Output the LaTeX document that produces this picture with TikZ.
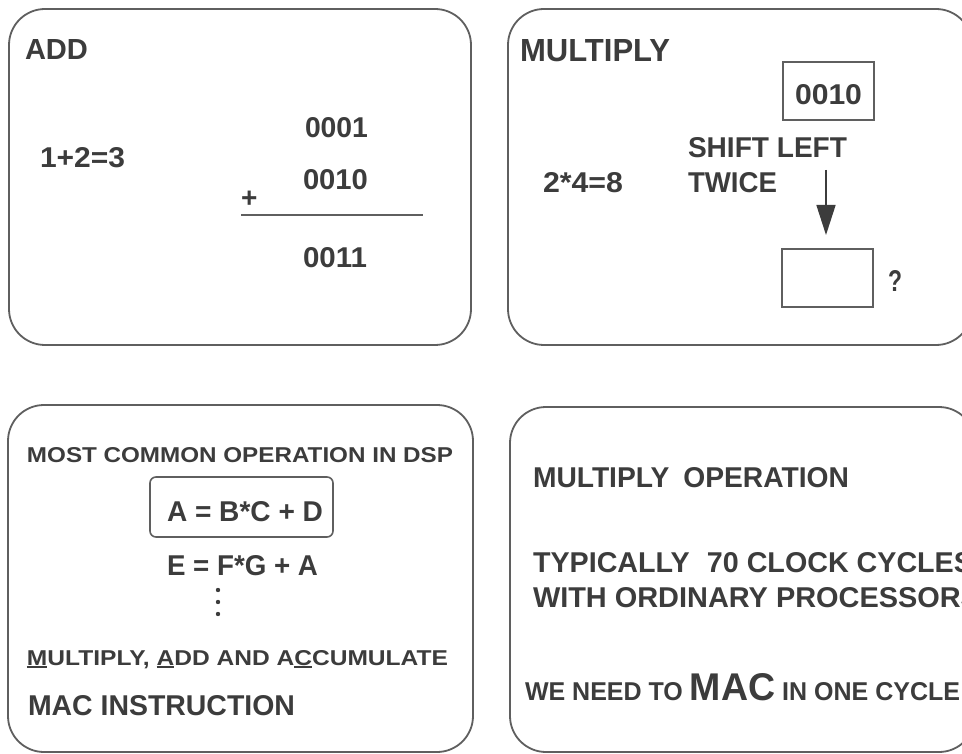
\documentclass[tikz,border=0pt]{standalone}
\usepackage{fontspec}
\setmainfont{Liberation Sans}
\usepackage{graphicx}
\usetikzlibrary{arrows.meta}
\definecolor{ink}{RGB}{60,60,60}
\definecolor{frame}{RGB}{95,95,95}
\newcommand{\fitt}[3]{\resizebox{#1pt}{#2pt}{#3}}
\newcommand{\myul}[1]{\setbox0\hbox{#1}\rlap{\rule[-2.6pt]{\wd0}{1.6pt}}#1}
\begin{document}
\begin{tikzpicture}[x=1pt,y=-1pt,
  panel/.style={draw=frame,line width=1.8pt,rounded corners=36pt},
  txt/.style={inner sep=0pt,outer sep=0pt,anchor=base west,text=ink,font=\fontsize{22}{22}\selectfont\bfseries},
  numbox/.style={draw=frame,line width=1.6pt,inner sep=0pt,minimum width=91pt,minimum height=58pt},
]
\useasboundingbox (0,0) rectangle (962,754);
\fill[white] (0,0) rectangle (962,754);
\clip (0,0) rectangle (962,754);

% panels
\draw[panel] (9,9) rectangle (471,345);
\draw[panel] (508,9) rectangle (972,345);
\draw[panel] (8,405) rectangle (473,752);
\draw[panel] (510,407) rectangle (975,752);

% ---- ADD panel
\node[txt] (add) at (25,60) {\fitt{63}{20}{ADD}};
\node[txt] (eq123) at (40,168) {\fitt{85}{20}{1+2=3}};
\node[txt] (n0001) at (305,138) {\fitt{63}{20}{0001}};
\node[txt] (n0010) at (303,190) {\fitt{65}{20}{0010}};
\node[txt,font=\fontsize{28}{28}\selectfont\bfseries] (plus) at (241,208) {+};
\coordinate (sl1) at (241,215);
\coordinate (sl2) at (423,215);
\draw[frame,line width=1.6pt] (sl1) -- (sl2);
\node[txt] (n0011) at (303,268) {\fitt{64}{20}{0011}};

% ---- MULTIPLY panel
\node[txt] (multitle) at (520,62) {\fitt{150}{22}{MULTIPLY}};
\node[numbox] (topbox) at (828.5,91) {};
\node[txt] (v0010b) at (795,105) {\fitt{67}{20}{0010}};
\node[txt] (shift) at (688,158) {\fitt{159}{20}{SHIFT LEFT}};
\node[txt] (twice) at (688,193) {\fitt{89}{20}{TWICE}};
\node[txt] (eq248) at (543,193) {\fitt{80}{20}{2*4=8}};
\coordinate (a1) at (826,170);
\coordinate (a2) at (826,235);
\draw[ink,line width=1.5pt,-{Triangle[width=19pt,length=30pt]}] (a1) -- (a2);
\node[numbox] (botbox) at (827.5,278) {};
\node[txt] (q) at (888,292) {\fitt{14}{21}{?}};

% ---- MAC panel
\node[txt] (most) at (27,462) {\fitt{426}{15}{MOST COMMON OPERATION IN DSP}};
\node[draw=frame,line width=1.6pt,rounded corners=6pt,minimum width=183pt,minimum height=60pt,inner sep=0pt] (abox) at (241.5,507) {};
\node[txt] (eq1) at (167,521) {\fitt{156}{20}{A = B*C + D}};
\node[txt] (eq2) at (167,575) {\fitt{151}{20}{E = F*G + A}};
\fill[ink] (218,590) circle (2.2pt);
\fill[ink] (218,602) circle (2.2pt);
\fill[ink] (218,614) circle (2.2pt);
\node[txt] (mac1) at (27,665) {\fitt{421}{15}{\myul{M}ULTIPLY, \myul{A}DD AND A\myul{C}CUMULATE}};
\node[txt] (macins) at (28,715) {\fitt{267}{20}{MAC INSTRUCTION}};

% ---- cycles panel
\node[txt] (mulop) at (533,487) {\fitt{316}{20}{MULTIPLY\hspace{0.5em}OPERATION}};
\node[txt] (typ) at (533,572) {\fitt{440}{20}{TYPICALLY\hspace{0.6em}70 CLOCK CYCLES}};
\node[txt] (with) at (533,607) {\fitt{447}{20}{WITH ORDINARY PROCESSORS}};
\node[txt] (need) at (525,700) {\fitt{435}{27}{WE NEED TO {\fontsize{33}{33}\selectfont MAC} IN ONE CYCLE}};
\end{tikzpicture}
\end{document}
